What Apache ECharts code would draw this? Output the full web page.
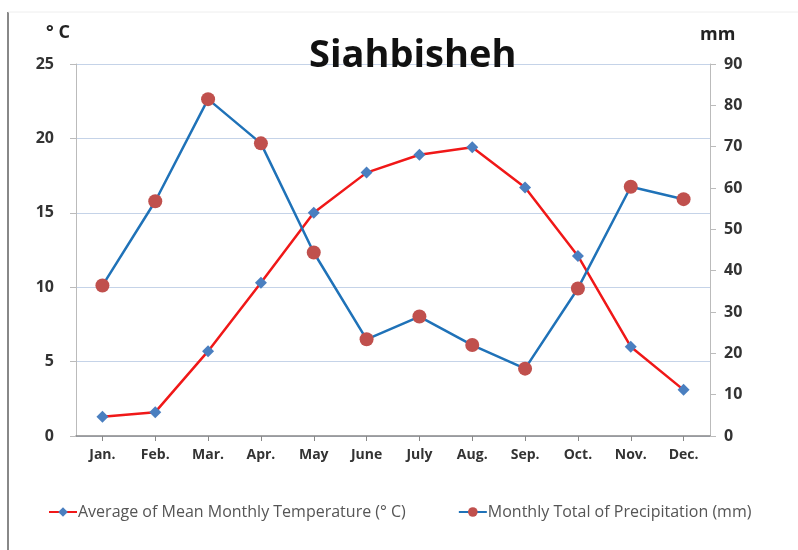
<!DOCTYPE html>
<html><head><meta charset="utf-8">
<script src="https://cdn.jsdelivr.net/npm/echarts@6/dist/echarts.min.js"></script>
<style>html,body{margin:0;padding:0;background:#fff}#c{width:798px;height:550px}</style>
</head><body><div id="c"></div>
<script>
const months = ['Jan.','Feb.','Mar.','Apr.','May','June','July','Aug.','Sep.','Oct.','Nov.','Dec.'];
const temperature = [1.3, 1.6, 5.7, 10.3, 15.0, 17.7, 18.9, 19.4, 16.7, 12.1, 6.0, 3.1];
const precipitation = [36.4, 56.8, 81.5, 70.8, 44.4, 23.4, 28.9, 22.0, 16.3, 35.7, 60.3, 57.3];
const tempTicks = [0, 25, 5];
const precTicks = [0, 90, 10];
const fontFam = 'Lato, "Open Sans", sans-serif';
const titleFam = '"Open Sans", Lato, sans-serif';
const chart = echarts.init(document.getElementById('c'));
chart.setOption({
  animation: false,
  backgroundColor: '#fff',
  textStyle: { fontFamily: fontFam },
  title: { text: 'Siahbisheh', left: 304, top: 32,
    textStyle: { fontSize: 38, fontWeight: 'bold', color: '#111', fontFamily: titleFam } },
  graphic: [
    { type: 'line', shape: { x1: 8, y1: 12, x2: 8, y2: 550 }, style: { stroke: '#888', lineWidth: 2 } },
    { type: 'line', shape: { x1: 8, y1: 12, x2: 798, y2: 12 }, style: { stroke: '#eee', lineWidth: 1 } },
    { type: 'text', left: 46, top: 24, style: { text: '° C', font: 'bold 18px ' + titleFam, fill: '#222' } },
    { type: 'text', left: 700, top: 26, style: { text: 'mm', font: 'bold 18px ' + titleFam, fill: '#222' } }
  ],
  legend: {
    bottom: 25, left: 43, itemGap: 52, itemWidth: 28, itemHeight: 12,
    textStyle: { fontSize: 16, color: '#555', fontFamily: titleFam, padding: [0, 0, 0, -4] }
  },
  grid: { left: 76, right: 88, top: 64, bottom: 114 },
  xAxis: {
    type: 'category', data: months, boundaryGap: true,
    axisLine: { lineStyle: { color: '#888', width: 1.5 } },
    axisTick: { show: true, alignWithLabel: true, length: 5, lineStyle: { color: '#888' } },
    axisLabel: { fontSize: 14, fontWeight: 'bold', color: '#333', margin: 12, fontFamily: titleFam }
  },
  yAxis: [
    { type: 'value', min: tempTicks[0], max: tempTicks[1], interval: tempTicks[2],
      axisLine: { show: true, lineStyle: { color: '#bbb' } },
      axisTick: { show: true, length: 6, lineStyle: { color: '#bbb' } },
      axisLabel: { fontSize: 16, fontWeight: 'bold', color: '#333', margin: 22, fontFamily: titleFam },
      splitLine: { lineStyle: { color: '#c5d3e8', width: 1 } } },
    { type: 'value', min: precTicks[0], max: precTicks[1], interval: precTicks[2], position: 'right',
      axisLine: { show: true, lineStyle: { color: '#bbb' } },
      axisTick: { show: true, length: 6, lineStyle: { color: '#bbb' } },
      axisLabel: { fontSize: 16, fontWeight: 'bold', color: '#333', margin: 14, fontFamily: titleFam },
      splitLine: { show: false } }
  ],
  series: [
    { name: 'Average of Mean Monthly Temperature (° C)', type: 'line', yAxisIndex: 0, data: temperature,
      symbol: 'diamond', symbolSize: 12,
      lineStyle: { color: '#f01818', width: 2.5 },
      itemStyle: { color: '#4a7fc0' } },
    { name: 'Monthly Total of Precipitation (mm)', type: 'line', yAxisIndex: 1, data: precipitation,
      symbol: 'circle', symbolSize: 14,
      lineStyle: { color: '#1f72b8', width: 2.5 },
      itemStyle: { color: '#c0504d' } }
  ]
});
</script></body></html>
